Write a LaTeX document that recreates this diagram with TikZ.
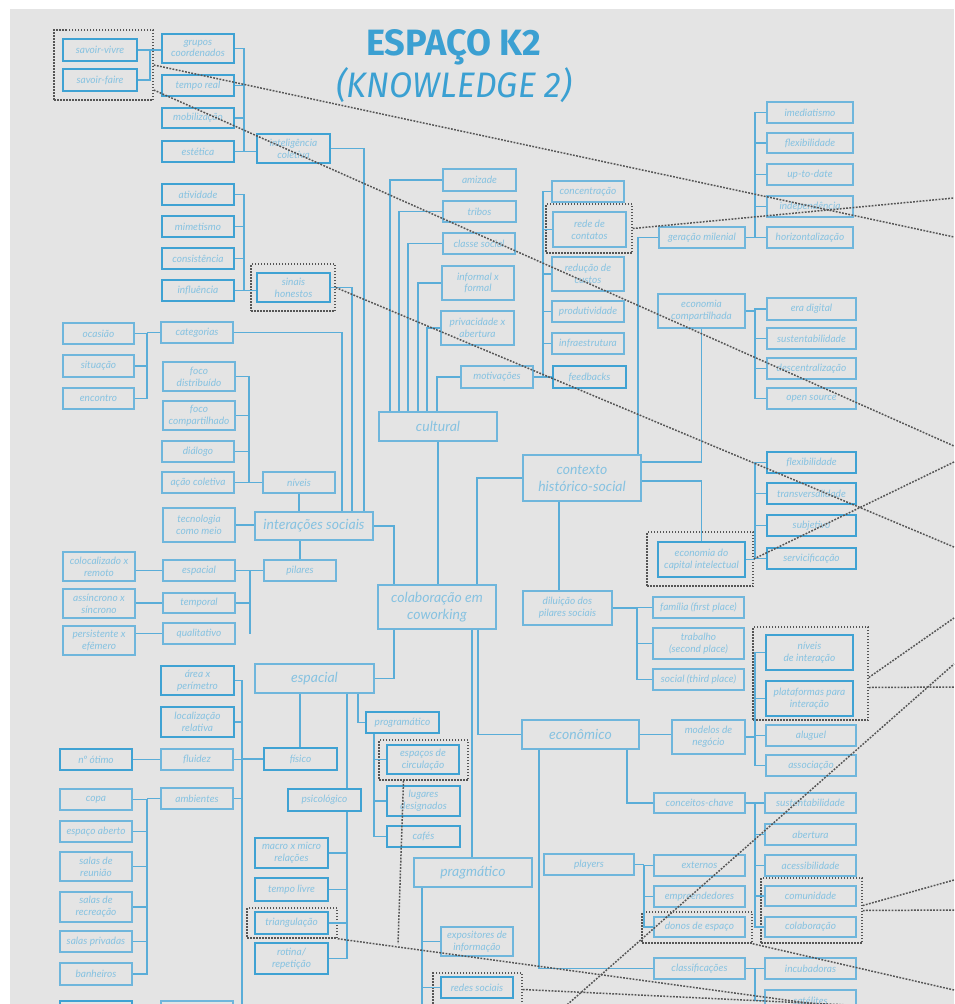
\documentclass[tikz,border=0pt]{standalone}
\usepackage{fontspec}
\usepackage{graphicx}
\usetikzlibrary{calc}
\newfontfamily\lblfam{Lato}
\newfontfamily\ttlfam[FakeStretch=0.8]{Fira Sans}
\definecolor{bg}{HTML}{E4E4E4}
\definecolor{thickc}{HTML}{3FA2D3}
\definecolor{thinc}{HTML}{6FB6DC}
\definecolor{txt}{HTML}{86C2E1}
\definecolor{linec}{HTML}{5AADD8}
\definecolor{dotc}{HTML}{555555}
\definecolor{ttl}{HTML}{3BA0D2}
% box with corners (x1,y1) (x2,y2) in pixel units
\newcommand\bx[7]{\node[#1, minimum width={(#5-#3)*1pt}, minimum height={(#6-#4)*1pt}] (#2) at ({(#3+#5)/2},{(#4+#6)/2}) {#7};}
\tikzset{
  lbl/.style={rectangle, inner sep=0.5pt, align=center, text=txt,
    font=\lblfam\itshape\fontsize{10.1}{11.8}\selectfont},
  thinbox/.style={lbl, draw=thinc, line width=1.3pt},
  thickbox/.style={lbl, draw=thickc, line width=2.6pt},
  bigbox/.style={thinbox, font=\lblfam\itshape\fontsize{14}{17}\selectfont},
  dotbox/.style={draw=dotc, line width=1.5pt, dash pattern=on 1.5pt off 1.5pt, inner sep=0},
  link/.style={draw=linec, line width=1.5pt},
  dlink/.style={draw=dotc, line width=1.5pt, dash pattern=on 1.8pt off 1.4pt},
}
\begin{document}
\begin{tikzpicture}[x=1pt,y=-1pt]
\useasboundingbox (0,0) rectangle (954,1004);
\fill[bg] (10,9) rectangle (954,1004);

% title
\node[anchor=base west, inner sep=0, text=ttl] (t1) at (366,55) {\resizebox{175pt}{26pt}{\ttlfam\bfseries ESPAÇO K2}};
\node[anchor=base west, inner sep=0, text=ttl] (t2) at (336,97) {\resizebox{236pt}{30pt}{\ttlfam\itshape (KNOWLEDGE 2)}};

% ---------- left column, top ----------
\bx{thickbox}{sv}{63}{39}{137}{61}{savoir-vivre}
\bx{thickbox}{sf}{63}{69}{137}{91}{savoir-faire}
\bx{thickbox}{gc}{162}{34}{234}{63}{grupos\\coordenados}
\bx{thickbox}{tr}{162}{75}{234}{96}{tempo real}
\bx{thickbox}{mob}{162}{108}{234}{128}{mobilização}
\bx{thickbox}{est}{162}{141}{234}{162}{estética}
\bx{thickbox}{ic}{257}{134}{330}{163}{inteligência\\coletiva}
\bx{thickbox}{ati}{162}{184}{234}{205}{atividade}
\bx{thickbox}{mim}{162}{216}{234}{237}{mimetismo}
\bx{thickbox}{con}{162}{248}{234}{269}{consistência}
\bx{thickbox}{inf}{162}{280}{234}{301}{influência}
\bx{thickbox}{sh}{257}{273}{330}{302}{sinais\\honestos}

\bx{thinbox}{oca}{63}{323}{134}{344}{ocasião}
\bx{thinbox}{sit}{63}{355}{134}{377}{situação}
\bx{thinbox}{enc}{63}{388}{134}{409}{encontro}
\bx{thinbox}{cat}{161}{322}{233}{343}{categorias}
\bx{thinbox}{fd}{163}{362}{235}{391}{foco\\distribuído}
\bx{thinbox}{fc}{163}{401}{235}{430}{foco\\compartilhado}
\bx{thinbox}{dia}{162}{441}{234}{462}{diálogo}
\bx{thinbox}{acao}{162}{472}{234}{493}{ação coletiva}
\bx{thinbox}{niv}{263}{472}{335}{493}{níveis}
\bx{thinbox}{tec}{163}{508}{235}{542}{tecnologia\\como meio}
\bx{bigbox}{inter}{255}{512}{373}{540}{interações sociais}
\bx{thinbox}{pil}{264}{560}{336}{581}{pilares}
\bx{thinbox}{colo}{63}{552}{135}{581}{colocalizado x\\remoto}
\bx{thinbox}{assi}{63}{589}{135}{618}{assíncrono x\\síncrono}
\bx{thinbox}{pers}{63}{626}{135}{655}{persistente x\\efêmero}
\bx{thinbox}{espS}{163}{560}{235}{581}{espacial}
\bx{thinbox}{temp}{163}{593}{235}{613}{temporal}
\bx{thinbox}{qual}{163}{623}{235}{644}{qualitativo}

% ---------- left column, bottom ----------
\bx{thickbox}{area}{161}{666}{234}{695}{área x\\perímetro}
\bx{thickbox}{loc}{161}{707}{234}{737}{localização\\relativa}
\bx{thinbox}{flu}{161}{749}{233}{770}{fluidez}
\bx{thickbox}{not}{60}{749}{132}{770}{nº ótimo}
\bx{thinbox}{amb}{161}{788}{233}{809}{ambientes}
\bx{thinbox}{copa}{60}{789}{132}{810}{copa}
\bx{thinbox}{esab}{60}{821}{132}{842}{espaço aberto}
\bx{thinbox}{sreu}{60}{852}{132}{881}{salas de\\reunião}
\bx{thinbox}{srec}{60}{892}{132}{922}{salas de\\recreação}
\bx{thinbox}{spri}{60}{931}{132}{952}{salas privadas}
\bx{thinbox}{banh}{60}{963}{132}{985}{banheiros}
\bx{thickbox}{blA}{60}{1001}{132}{1030}{}
\bx{thinbox}{blB}{161}{1001}{233}{1030}{}

\bx{bigbox}{espB}{255}{664}{374}{693}{espacial}
\bx{thickbox}{fis}{264}{748}{337}{770}{físico}
\bx{thickbox}{psi}{288}{789}{361}{811}{psicológico}
\bx{thickbox}{prog}{366}{712}{439}{733}{programático}
\bx{thickbox}{espc}{387}{745}{459}{774}{espaços de\\circulação}
\bx{thickbox}{lug}{387}{786}{460}{816}{lugares\\designados}
\bx{thickbox}{caf}{387}{826}{460}{847}{cafés}
\bx{thickbox}{macro}{255}{838}{328}{868}{macro x micro\\relações}
\bx{thickbox}{tliv}{255}{878}{328}{901}{tempo livre}
\bx{thickbox}{tri}{255}{912}{328}{934}{triangulação}
\bx{thickbox}{rot}{255}{943}{328}{974}{rotina/\\repetição}

% ---------- centre ----------
\bx{bigbox}{cult}{379}{412}{497}{441}{cultural}
\bx{thinbox}{ami}{443}{169}{516}{191}{amizade}
\bx{thinbox}{tri2}{443}{201}{516}{222}{tribos}
\bx{thinbox}{cls}{443}{233}{515}{254}{classe social}
\bx{thinbox}{infx}{442}{266}{514}{300}{informal x\\formal}
\bx{thinbox}{priv}{441}{311}{514}{345}{privacidade x\\abertura}
\bx{thinbox}{motiv}{461}{366}{533}{388}{motivações}
\bx{thinbox}{conc}{552}{181}{624}{202}{concentração}
\bx{thinbox}{rede}{553}{212}{626}{247}{rede de\\contatos}
\bx{thinbox}{redu}{552}{257}{624}{291}{redução de\\custos}
\bx{thinbox}{prod}{552}{301}{624}{322}{produtividade}
\bx{thinbox}{infra}{552}{333}{624}{354}{infraestrutura}
\bx{thickbox}{feed}{553}{366}{626}{388}{feedbacks}
\bx{bigbox}{colab}{378}{585}{496}{629}{colaboração em\\coworking}
\bx{bigbox}{ctx}{523}{455}{641}{501}{contexto\\histórico-social}
\bx{thinbox}{dil}{523}{591}{612}{625}{diluição dos\\pilares sociais}
\bx{thinbox}{fam}{653}{597}{744}{618}{família (first place)}
\bx{thinbox}{trab}{653}{628}{744}{659}{trabalho\\(second place)}
\bx{thinbox}{soc}{653}{669}{744}{690}{social (third place)}
\bx{bigbox}{econ}{522}{720}{639}{749}{econômico}
\bx{bigbox}{prag}{414}{858}{532}{887}{pragmático}
\bx{thinbox}{expo}{441}{927}{513}{956}{expositores de\\informação}
\bx{thickbox}{redes}{441}{977}{513}{998}{redes sociais}
\bx{thinbox}{play}{544}{854}{634}{875}{players}

% ---------- right column ----------
\bx{thinbox}{imed}{767}{102}{853}{123}{imediatismo}
\bx{thinbox}{flx1}{767}{133}{853}{153}{flexibilidade}
\bx{thinbox}{upd}{767}{164}{853}{185}{up-to-date}
\bx{thinbox}{indep}{767}{196}{853}{217}{independência}
\bx{thinbox}{hor}{767}{227}{853}{248}{horizontalização}
\bx{thinbox}{ger}{659}{227}{745}{248}{geração milenial}
\bx{thinbox}{ecc}{658}{294}{745}{328}{economia\\compartilhada}
\bx{thinbox}{era}{767}{298}{856}{320}{era digital}
\bx{thinbox}{sus1}{767}{328}{856}{349}{sustentabilidade}
\bx{thinbox}{desc}{767}{358}{856}{379}{descentralização}
\bx{thinbox}{open}{767}{388}{856}{409}{open source}
\bx{thickbox}{flx2}{767}{452}{856}{473}{flexibilidade}
\bx{thickbox}{trans}{767}{483}{856}{504}{transversalidade}
\bx{thickbox}{subj}{767}{515}{856}{536}{subjetivo}
\bx{thickbox}{serv}{767}{548}{856}{569}{servicificação}
\bx{thickbox}{eci}{658}{542}{745}{577}{economia do\\capital intelectual}
\bx{thickbox}{nivi}{766}{635}{853}{670}{níveis\\de interação}
\bx{thickbox}{plat}{766}{681}{853}{716}{plataformas para\\interação}
\bx{thinbox}{mod}{672}{720}{745}{754}{modelos de\\negócio}
\bx{thinbox}{alug}{766}{725}{856}{746}{aluguel}
\bx{thinbox}{asso}{766}{755}{856}{776}{associação}
\bx{thinbox}{cc}{654}{793}{745}{813}{conceitos-chave}
\bx{thinbox}{sus2}{765}{793}{856}{813}{sustentabilidade}
\bx{thinbox}{abe}{765}{824}{856}{845}{abertura}
\bx{thinbox}{ace}{765}{855}{856}{876}{acessibilidade}
\bx{thinbox}{comu}{765}{886}{856}{906}{comunidade}
\bx{thinbox}{colb}{765}{917}{856}{937}{colaboração}
\bx{thinbox}{ext}{654}{855}{745}{876}{externos}
\bx{thinbox}{emp}{654}{886}{745}{907}{empreendedores}
\bx{thinbox}{donos}{654}{917}{745}{937}{donos de espaço}
\bx{thinbox}{clas}{654}{958}{745}{979}{classificações}
\bx{thinbox}{incu}{765}{958}{856}{979}{incubadoras}
\bx{thinbox}{sat}{765}{990}{856}{1011}{satélites}

% ---------- dotted groups ----------
\bx{dotbox}{d1}{54}{30}{153}{100}{}
\bx{dotbox}{d2}{251}{264}{335}{311}{}
\bx{dotbox}{d3}{546}{204}{632}{253}{}
\bx{dotbox}{d4}{647}{532}{753}{586}{}
\bx{dotbox}{d5}{753}{627}{868}{720}{}
\bx{dotbox}{d6}{379}{740}{468}{780}{}
\bx{dotbox}{d7}{247}{908}{337}{938}{}
\bx{dotbox}{d8}{642}{912}{752}{943}{}
\bx{dotbox}{d9}{761}{878}{862}{943}{}
\bx{dotbox}{d10}{433}{973}{522}{1006}{}

% ---------- bus positions ----------
\coordinate (bSV) at (150,0);
\coordinate (bGC) at (244,0);
\coordinate (bOC) at (147,0);
\coordinate (bFO) at (249,0);
\coordinate (bPI) at (250,0);
\coordinate (bCO) at (543,0);
\coordinate (bRT) at (755,0);
\coordinate (bFA) at (637,0);
\coordinate (bPR) at (374,0);
\coordinate (bFI) at (242,0);
\coordinate (bAM) at (147,0);
\coordinate (bPS) at (347,0);
\coordinate (bPG) at (422,0);
\coordinate (bPL) at (644,0);
\coordinate (vIC) at (364,0);
\coordinate (vSH) at (352,0);
\coordinate (vCA) at (342,0);
\coordinate (vIN) at (394,0);
\coordinate (vCT) at (477,0);
\coordinate (vPG) at (472,0);
\coordinate (vEC) at (478,0);
\coordinate (vGM) at (638,0);
\coordinate (vDI) at (559,0);
\coordinate (vCK) at (627,0);
\coordinate (vCL) at (539,0);
\coordinate (vFS) at (300,0);
\coordinate (vPR) at (358,0);
\coordinate (bottom) at (0,1012);

% ---------- connectors ----------
% inteligência coletiva
\draw[link] (sv.east) -- (sv.east -| gc.west);
\draw[link] (sf.east) -| (bSV |- sv.east);
\draw[link] (gc.east) -| (bGC |- est.east);
\draw[link] (tr.east) -- (tr.east -| bGC);
\draw[link] (mob.east) -- (mob.east -| bGC);
\draw[link] (est.east) -- (est.east -| ic.west);
% sinais honestos
\draw[link] (ati.east) -| (bGC |- inf.east);
\draw[link] (mim.east) -- (mim.east -| bGC);
\draw[link] (con.east) -- (con.east -| bGC);
\draw[link] (inf.east) -- (inf.east -| sh.west);
% into interações sociais
\draw[link] (ic.east) -| (vIC |- inter.north);
\draw[link] (sh.east) -| (vSH |- inter.north);
\draw[link] (cat.east) -| (vCA |- inter.north);
\draw[link] (oca.east) -| (bOC |- enc.east) -- (enc.east);
\draw[link] (sit.east) -- (sit.east -| bOC);
\draw[link] (bOC |- cat.west) -- (cat.west);
\draw[link] (fd.east) -| (bFO |- acao.east);
\draw[link] (fc.east) -- (fc.east -| bFO);
\draw[link] (dia.east) -- (dia.east -| bFO);
\draw[link] (acao.east) -- (niv.west);
\draw[link] (niv.south) -- (niv.south |- inter.north);
\draw[link] (tec.east) -- (tec.east -| inter.west);
\draw[link] (pil.north) -- (pil.north |- inter.south);
\draw[link] (espS.east) -| (bPI |- qual.east);
\draw[link] (temp.east) -- (temp.east -| bPI);
\draw[link] (espS.east) -- (pil.west);
\draw[link] (colo.east |- espS.west) -- (espS.west);
\draw[link] (assi.east |- temp.west) -- (temp.west);
\draw[link] (pers.east |- qual.west) -- (qual.west);
% colaboração em coworking
\draw[link] (inter.east) -| (vIN |- colab.north);
\draw[link] (cult.south) -- (cult.south |- colab.north);
\draw[link] (ctx.west) -| (vCT |- colab.north);
\draw[link] (vIN |- colab.south) |- (espB.east);
\draw[link] (vPG |- colab.south) -- (vPG |- prag.north);
\draw[link] (vEC |- colab.south) |- (econ.west);
% cultural
\draw[link] ([xshift=-48pt]cult.north) |- (ami.west);
\draw[link] ([xshift=-39pt]cult.north) |- (tri2.west);
\draw[link] ([xshift=-30pt]cult.north) |- (cls.west);
\draw[link] ([xshift=-20pt]cult.north) |- (infx.west);
\draw[link] ([xshift=-11pt]cult.north) |- (priv.west);
\draw[link] ([xshift=-1pt]cult.north) |- (motiv.west);
\draw[link] (conc.west) -| (bCO |- feed.west);
\draw[link] (rede.west) -- (rede.west -| bCO);
\draw[link] (redu.west) -- (redu.west -| bCO);
\draw[link] (prod.west) -- (prod.west -| bCO);
\draw[link] (infra.west) -- (infra.west -| bCO);
\draw[link] (motiv.east) -- (feed.west);
% contexto histórico-social
\draw[link] (vGM |- ctx.north) |- (ger.west);
\draw[link] (ger.east) -- (hor.west);
\draw[link] (imed.west) -| (bRT |- hor.west);
\draw[link] (flx1.west) -- (flx1.west -| bRT);
\draw[link] (upd.west) -- (upd.west -| bRT);
\draw[link] (indep.west) -- (indep.west -| bRT);
\draw[link] ([yshift=16pt]ctx.east) -| (ecc.south);
\draw[link] ([yshift=-3pt]ctx.east) -| (eci.north);
\draw[link] (ecc.east) -- (ecc.east -| bRT);
\draw[link] (era.west) -| (bRT |- open.west) -- (open.west);
\draw[link] (sus1.west) -- (sus1.west -| bRT);
\draw[link] (desc.west) -- (desc.west -| bRT);
\draw[link] (eci.east) -- (eci.east -| bRT);
\draw[link] (flx2.west) -| (bRT |- serv.west) -- (serv.west);
\draw[link] (trans.west) -- (trans.west -| bRT);
\draw[link] (subj.west) -- (subj.west -| bRT);
\draw[link] (vDI |- ctx.south) -- (vDI |- dil.north);
\draw[link] (dil.east) -- (dil.east -| bFA);
\draw[link] (fam.west) -| (bFA |- soc.west) -- (soc.west);
\draw[link] (trab.west) -- (trab.west -| bFA);
% econômico
\draw[link] (econ.east) -- (econ.east -| mod.west);
\draw[link] (mod.east) -- (mod.east -| bRT);
\draw[link] (nivi.west) -| (bRT |- asso.west) -- (asso.west);
\draw[link] (plat.west) -- (plat.west -| bRT);
\draw[link] (alug.west) -- (alug.west -| bRT);
\draw[link] (vCK |- econ.south) |- (cc.west);
\draw[link] (cc.east) -- (cc.east -| bRT);
\draw[link] (sus2.west) -| (bRT |- colb.west) -- (colb.west);
\draw[link] (abe.west) -- (abe.west -| bRT);
\draw[link] (ace.west) -- (ace.west -| bRT);
\draw[link] (comu.west) -- (comu.west -| bRT);
\draw[link] (vCL |- econ.south) |- (clas.west);
\draw[link] (clas.east) -- (clas.east -| bRT);
\draw[link] (incu.west) -| (bRT |- sat.west) -- (sat.west);
\draw[link] (play.east) -- (play.east -| bPL);
\draw[link] (ext.west) -| (bPL |- donos.west) -- (donos.west);
\draw[link] (emp.west) -- (emp.west -| bPL);
% espacial
\draw[link] (vFS |- espB.south) -- (vFS |- fis.north);
\draw[link] (bPS |- espB.south) -- (bPS |- psi.north);
\draw[link] (vPR |- espB.south) |- (prog.west);
\draw[link] (bPR |- prog.south) |- (caf.west);
\draw[link] (bPR |- espc.west) -- (espc.west);
\draw[link] (bPR |- lug.west) -- (lug.west);
\draw[link] (fis.west) -- (fis.west -| bFI);
\draw[link] (area.east) -| (bFI |- bottom);
\draw[link] (loc.east) -- (loc.east -| bFI);
\draw[link] (flu.east) -- (flu.east -| bFI);
\draw[link] (amb.east) -- (amb.east -| bFI);
\draw[link] (not.east) -- (flu.west);
\draw[link] (amb.west) -- (amb.west -| bAM);
\draw[link] (copa.east) -| (bAM |- banh.east) -- (banh.east);
\draw[link] (esab.east) -- (esab.east -| bAM);
\draw[link] (sreu.east) -- (sreu.east -| bAM);
\draw[link] (srec.east) -- (srec.east -| bAM);
\draw[link] (spri.east) -- (spri.east -| bAM);
\draw[link] (bPS |- psi.south) |- (rot.east);
\draw[link] (macro.east) -- (macro.east -| bPS);
\draw[link] (tliv.east) -- (tliv.east -| bPS);
\draw[link] (tri.east) -- (tri.east -| bPS);
% pragmático
\draw[link] (bPG |- prag.south) -- (bPG |- bottom);
\draw[link] (bPG |- expo.west) -- (expo.west);
\draw[link] (bPG |- redes.west) -- (redes.west);

% ---------- cross references (dotted) ----------
\coordinate (e1) at (954,237);
\coordinate (e2) at (954,446);
\coordinate (e3) at (954,547);
\coordinate (e4) at (954,198);
\coordinate (e5) at (954,462);
\coordinate (e6) at (954,687);
\coordinate (e7) at (954,618);
\coordinate (s8) at (560,1011);
\coordinate (e8) at (954,664);
\coordinate (e9) at (398,944);
\coordinate (e10) at (954,1023);
\coordinate (e11) at (954,990);
\coordinate (e12) at (954,910);
\coordinate (e13) at (954,880);
\coordinate (e14) at (954,1010);
\draw[dlink] (d1.east) -- (e1);
\draw[dlink] ([yshift=-25pt]d1.east) -- (e2);
\draw[dlink] (d2.east) -- (e3);
\draw[dlink] (d3.east) -- (e4);
\draw[dlink] (d4.east) -- (e5);
\draw[dlink] ([yshift=-14pt]d5.east) -- (e6);
\draw[dlink] ([yshift=-4pt]d5.east) -- (e7);
\draw[dlink] (s8) -- (e8);
\draw[dlink] ([xshift=-20pt]d6.south) -- (e9);
\draw[dlink] (d7.south east) -- (e10);
\draw[dlink] (d8.south east) -- (e11);
\draw[dlink] (d9.east) -- (e12);
\draw[dlink] ([yshift=5pt]d9.east) -- (e13);
\draw[dlink] (d10.east) -- (e14);
\end{tikzpicture}
\end{document}
